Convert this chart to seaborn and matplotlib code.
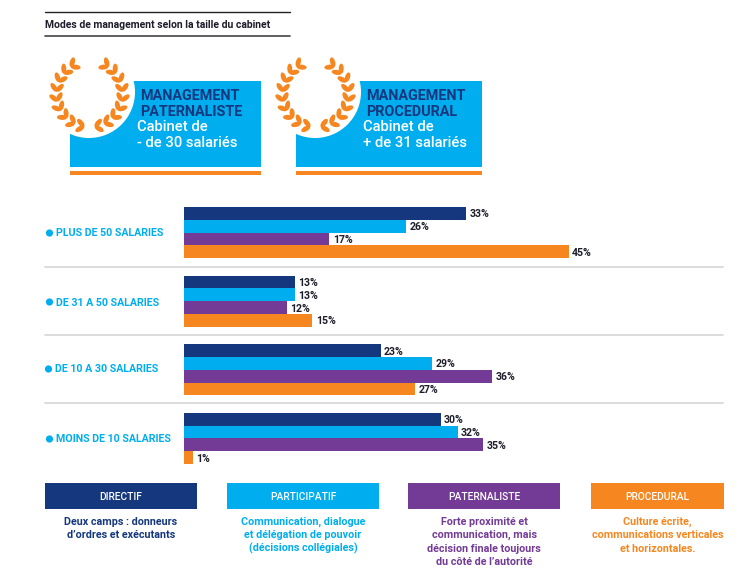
import numpy as np
import pandas as pd
import matplotlib
matplotlib.use("Agg")
import matplotlib.pyplot as plt
from matplotlib.patches import Rectangle, Circle, Ellipse
import seaborn as sns

W, H = 749, 574

# Survey figures
sizes = ["PLUS DE 50 SALARIES", "DE 31 A 50 SALARIES", "DE 10 A 30 SALARIES", "MOINS DE 10 SALARIES"]
styles = ["DIRECTIF", "PARTICIPATIF", "PATERNALISTE", "PROCEDURAL"]
directif = [33, 13, 23, 30]
participatif = [26, 13, 29, 32]
paternaliste = [17, 12, 36, 35]
procedural = [45, 15, 27, 1]

descriptions = [
    ["Deux camps : donneurs", "d’ordres et exécutants"],
    ["Communication, dialogue", "et délégation de pouvoir", "(décisions collégiales)"],
    ["Forte proximité et", "communication, mais", "décision finale toujours", "du côté de l’autorité"],
    ["Culture écrite,", "communications verticales", "et horizontales."],
]

NAVY, CYAN, PURPLE, ORANGE = "#15377E", "#00AEEF", "#733A96", "#F68720"
INK = "#1d1d2b"
palette = [NAVY, CYAN, PURPLE, ORANGE]

sns.set_theme(style="white")
plt.rcParams["font.family"] = ["Roboto", "DejaVu Sans"]

fig = plt.figure(figsize=(W / 100, H / 100), dpi=100)

# Full-page canvas in pixel units for the furniture around the chart
page = fig.add_axes([0, 0, 1, 1])
page.set_xlim(0, W)
page.set_ylim(H, 0)
page.axis("off")


def rect(x0, y0, x1, y1, color, z=1):
    page.add_patch(Rectangle((x0, y0), x1 - x0, y1 - y0, fc=color, ec="none", zorder=z))


def laurel(cx, cy, r=33):
    # Two mirrored branches of paired leaves growing from the bottom towards the top
    for side in (-1, 1):
        for deg in np.linspace(170, 34, 9):
            a = np.radians(deg)
            px, py = cx + side * r * np.sin(a), cy - r * np.cos(a)
            growth = np.degrees(np.arctan2(-np.sin(a), -side * np.cos(a)))
            for sign in (-1, 1):
                leaf = growth + sign * 40
                qx = px + 4.6 * np.cos(np.radians(leaf))
                qy = py + 4.6 * np.sin(np.radians(leaf))
                page.add_patch(Ellipse((qx, qy), 10.0, 5.0, angle=leaf,
                                       fc=ORANGE, ec="none", zorder=4))


# Section title between two rules
page.plot([45, 290], [12, 12], color="#222222", lw=1)
page.plot([45, 290], [36, 36], color="#444444", lw=1.2)
page.text(45, 25.5, "Modes de management selon la taille du cabinet", fontsize=7.45,
          fontweight="bold", color=INK, va="center")

# Headline panels
panels = [
    (70, 261, ["MANAGEMENT", "PATERNALISTE"], ["Cabinet de", "- de 30 salariés"], 140, 137, 89, 89.5),
    (296, 482, ["MANAGEMENT", "PROCEDURAL"], ["Cabinet de", "+ de 31 salariés"], 366, 363, 315, 315.5),
]
for x0, x1, head, sub, hx, sx, cx, wx in panels:
    rect(x0, 81, x1, 167, CYAN)
    rect(x0, 171, x1, 175, ORANGE)
    page.add_patch(Circle((cx, 92), 46, fc="white", ec="none", zorder=2))
    laurel(wx, 94)
    for y, line in zip((96, 112), head):
        page.text(hx, y, line, fontsize=10.4, fontweight="bold", color=NAVY, va="center", zorder=5)
    for y, line in zip((127, 143), sub):
        page.text(sx, y, line, fontsize=10.6, fontweight="medium", color="white", va="center", zorder=5)

# Row separators
for y in (267, 335, 403):
    page.plot([45, 723], [y, y], color="#D9D9D9", lw=1.3)

# Row labels with their bullets
for y, bx, label in zip((233, 302, 369, 439), (49.5, 49.5, 48.5, 49.5), sizes):
    page.add_patch(Circle((bx, y), 3.6, fc=CYAN, ec="none"))
    page.text(bx + 6.5, y + 0.5, label, fontsize=7.65, fontweight="bold", color=CYAN, va="center")

# Legend tiles and their explanations
tiles = [(45, 197), (227, 379), (408, 560), (591, 724)]
for (x0, x1), style, desc, col in zip(tiles, styles, descriptions, palette):
    rect(x0, 483, x1, 509, col)
    page.text((x0 + x1) / 2, 496.5, style, fontsize=7.4, fontweight="medium", color="white",
              ha="center", va="center")
    for i, line in enumerate(desc):
        page.text((x0 + x1) / 2, 522 + 13.3 * i, line, fontsize=7.75, fontweight="bold",
                  color=col, ha="center", va="center")

# Grouped horizontal bars
frame = pd.DataFrame({
    "taille": sizes * 4,
    "mode": np.repeat(styles, 4),
    "part": directif + participatif + paternaliste + procedural,
})

top, bottom, left, px_per_pct = 198.2, 472.8, 184, 8.55
span = 60
chart = fig.add_axes([left / W, 1 - bottom / H, span * px_per_pct / W, (bottom - top) / H])
chart.patch.set_alpha(0)
sns.barplot(data=frame, y="taille", x="part", hue="mode", order=sizes, hue_order=styles,
            palette=palette, width=0.743, saturation=1, gap=0, legend=False,
            linewidth=0, edgecolor="none", ax=chart)
chart.set_xlim(0, span)
chart.axis("off")

for container in chart.containers:
    labels = chart.bar_label(container, fmt="%g%%", padding=2.5, fontsize=7.6, fontweight="bold",
                             color=INK)
    for label in labels:
        label.set_verticalalignment("center_baseline")

fig.savefig("out.png", dpi=100)
